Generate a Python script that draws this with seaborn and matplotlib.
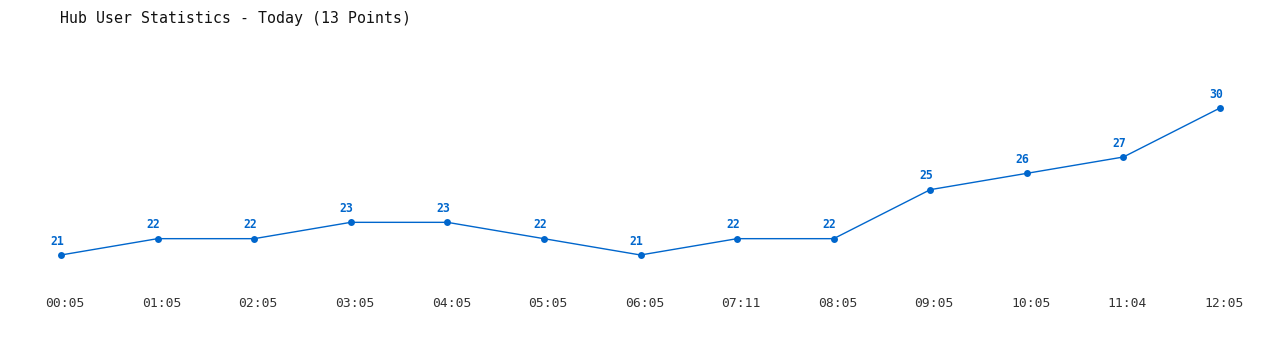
import matplotlib
matplotlib.use("Agg")
import matplotlib.pyplot as plt
import matplotlib.transforms as mtransforms
import seaborn as sns
import pandas as pd

times = ["00:05", "01:05", "02:05", "03:05", "04:05", "05:05", "06:05",
         "07:11", "08:05", "09:05", "10:05", "11:04", "12:05"]
users = [21, 22, 22, 23, 23, 22, 21, 22, 22, 25, 26, 27, 30]
title = "Hub User Statistics - Today (13 Points)"

sns.set_style("white")
plt.rcParams["font.family"] = ["DejaVu Sans Mono"]

W, H = 1280, 350
fig = plt.figure(figsize=(12.8, 3.5), dpi=100)
x0, x1 = 61, 1220
y_lo, y_hi = 255, 108  # pixel rows of values 21 and 30
ax = fig.add_axes([x0 / W, (H - y_lo) / H, (x1 - x0) / W, (y_lo - y_hi) / H])

df = pd.DataFrame({"idx": range(len(times)), "users": users})
color = "#0066CC"
sns.lineplot(data=df, x="idx", y="users", ax=ax, color=color, linewidth=1,
             marker="o", markersize=5, markeredgewidth=0, clip_on=False)
ax.set_xlim(0, len(times) - 1)
ax.set_ylim(min(users), max(users))

for i, v in enumerate(users):
    ax.annotate(str(v), (i, v), xytext=(-3, 10), textcoords="offset points",
                ha="center", va="center", fontsize=8.3, fontweight="bold",
                color=color)

ax.set_xticks(range(len(times)))
ax.set_xticklabels(times, fontsize=9.4, color="#333333")
ax.tick_params(axis="x", length=0, pad=30)
shift = mtransforms.ScaledTranslation(4 / 100, 0, fig.dpi_scale_trans)
for lab in ax.get_xticklabels():
    lab.set_transform(lab.get_transform() + shift)
ax.set_yticks([])
ax.set_xlabel("")
ax.set_ylabel("")
for s in ax.spines.values():
    s.set_visible(False)

fig.text(60 / W, 1 - 18 / H, title, ha="left", va="center", fontsize=10.7,
         color="#111111")

fig.savefig("out.png", dpi=100)
